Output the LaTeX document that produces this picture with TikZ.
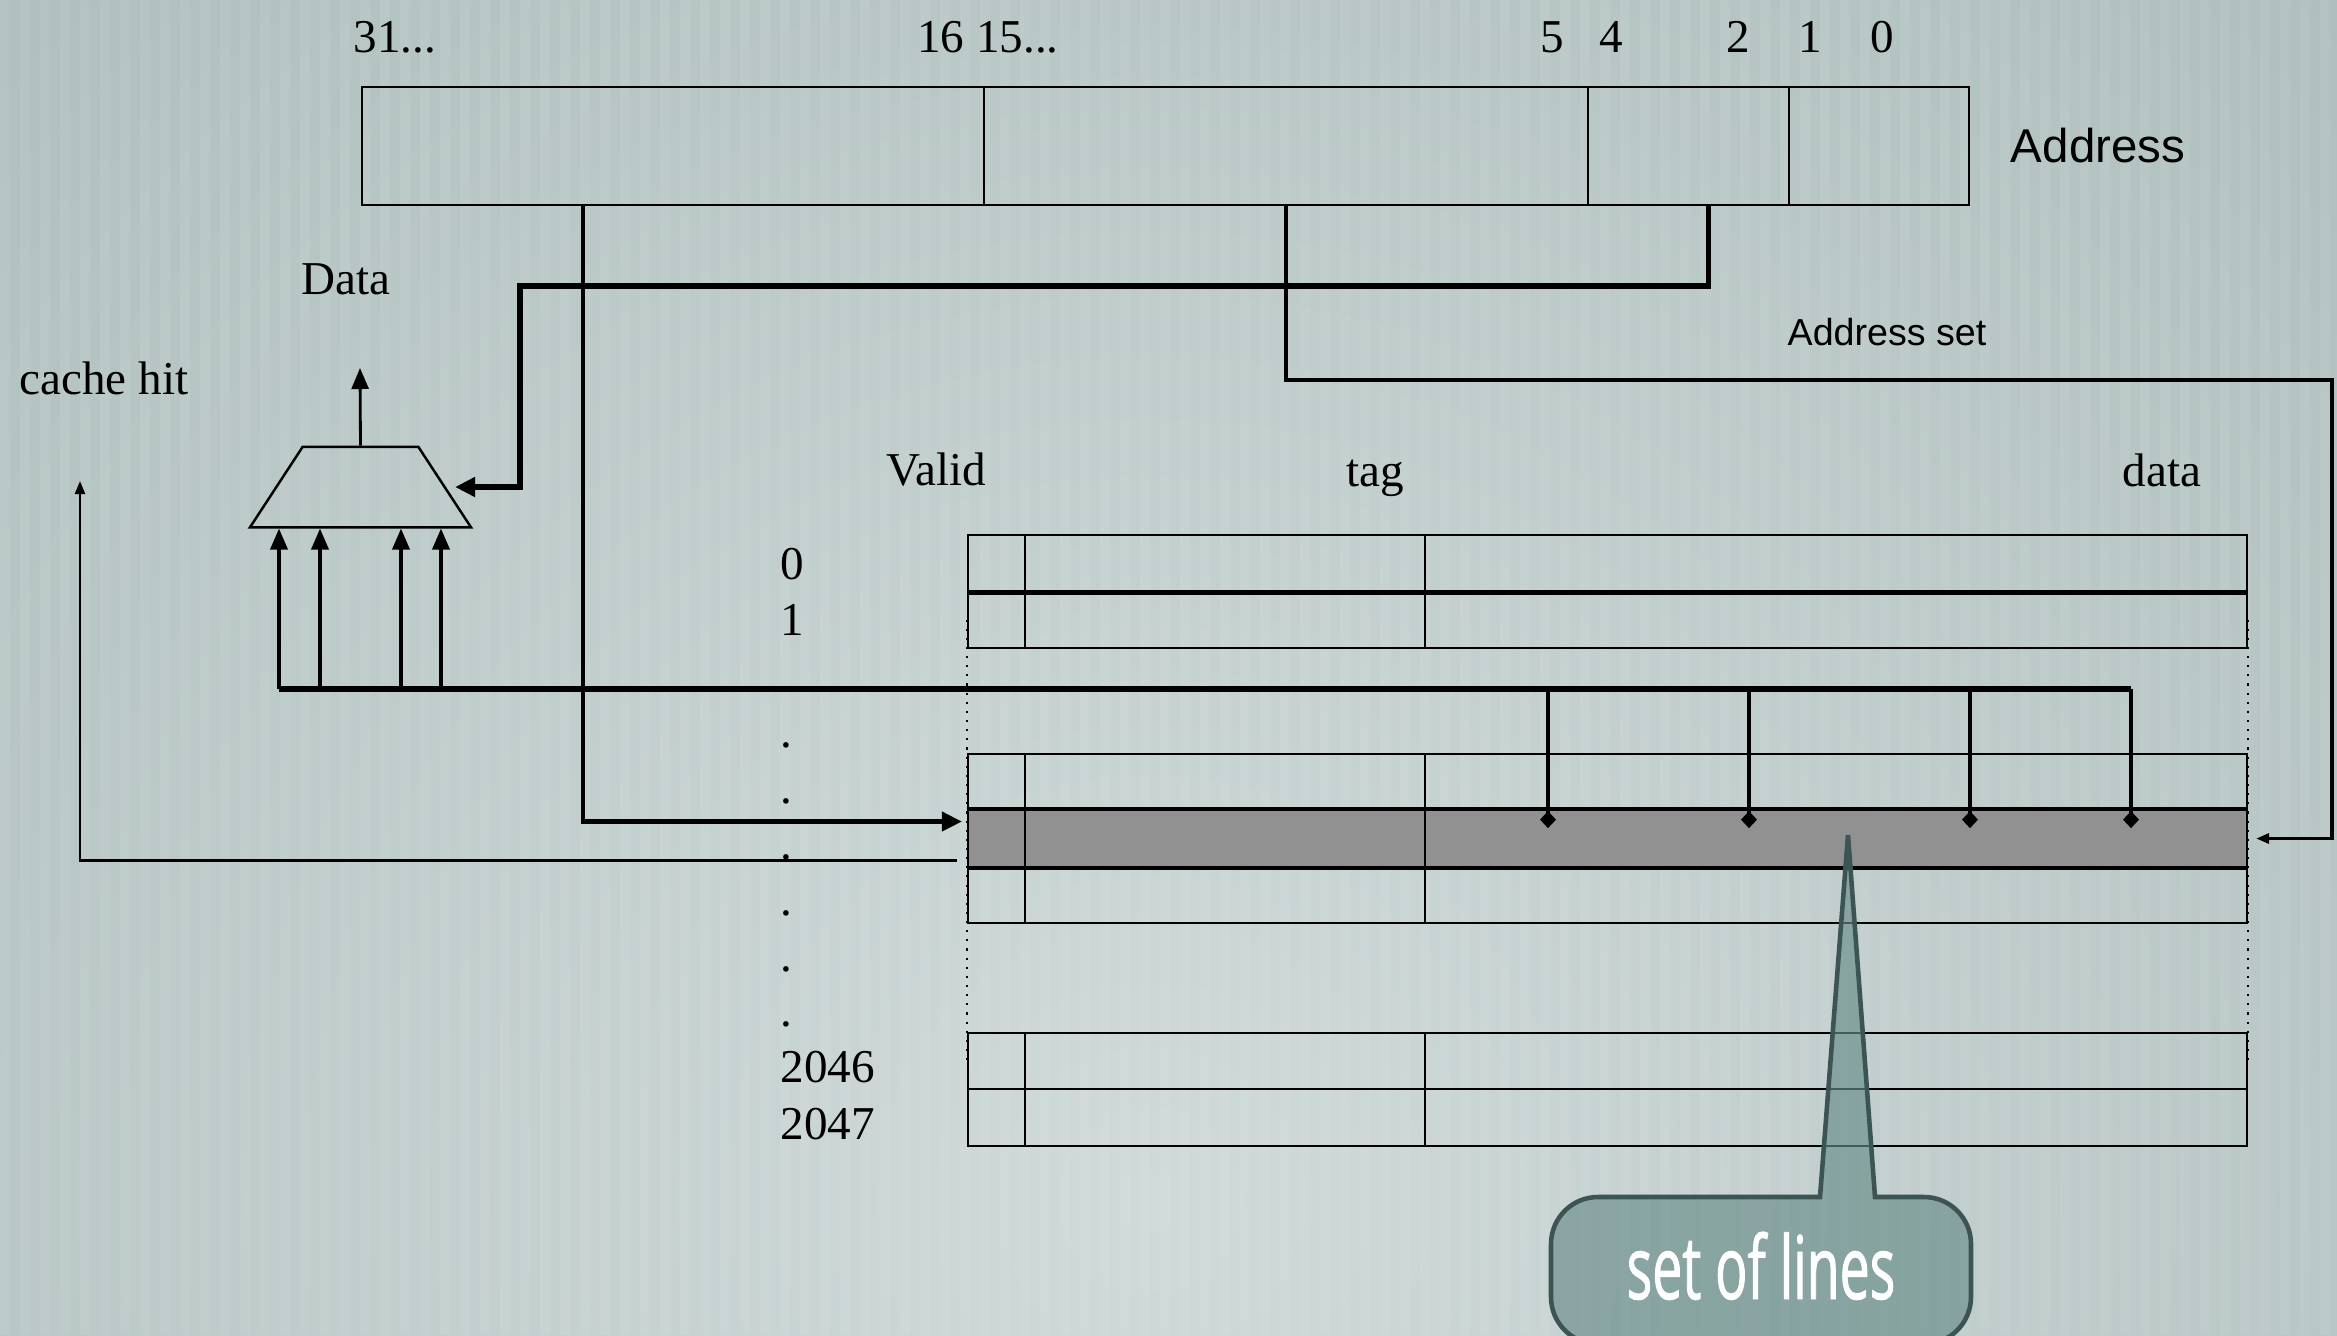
\documentclass[tikz,border=0pt]{standalone}
\usepackage{fontspec}
\setmainfont{Liberation Serif}
\setsansfont{Liberation Sans}
\newfontfamily\calloutfont[FakeStretch=0.61,FakeBold=1]{Open Sans}
\usetikzlibrary{arrows.meta,shapes.geometric,calc}

\definecolor{bgout}{RGB}{148,170,168}
\definecolor{bgin}{RGB}{208,218,217}
\definecolor{rowgray}{RGB}{145,145,145}
\definecolor{calloutfill}{RGB}{104,140,137}
\definecolor{calloutline}{RGB}{60,84,84}

\begin{document}
\begin{tikzpicture}
\tikzset{%
	field/.style = {draw, rectangle, minimum height=1.18cm, inner sep=0, line width=.7pt},
	cell/.style = {draw, rectangle, minimum height=.565cm, inner sep=0, line width=.65pt},
	valid/.style = {cell, minimum width=.57cm},
	tagcell/.style = {cell, minimum width=4cm},
	datacell/.style = {cell, minimum width=8.22cm},
	hot/.style = {fill=rowgray},
	lbl/.style = {anchor=base, inner sep=0, font=\fontsize{13.4}{16}\selectfont},
	rowlbl/.style = {lbl, anchor=base west},
	sans/.style = {lbl, font=\sffamily\fontsize{13.5}{16}\selectfont},
	mux/.style = {draw, trapezium, trapezium angle=65.5, trapezium stretches=true, minimum width=2.21cm, minimum height=.805cm, inner sep=1pt, line width=.7pt},
	con/.style = {-{Triangle[length=2.1mm,width=1.7mm]}, line width=1pt},
	fat/.style = {-{Triangle[length=2mm,width=1.9mm]}, line width=1.5pt},
	hair/.style = {-{Triangle[length=1.3mm,width=1mm]}, line width=.7pt},
	bus/.style = {line width=1.6pt},
	drop/.style = {-{Diamond[length=1.7mm,width=1.6mm]}, line width=1pt},
	callout/.style = {draw=calloutline, line width=1.3pt, fill=calloutfill, fill opacity=.65}
}

\useasboundingbox (0,0) rectangle (23.37,-13.35);

% Background
\begin{scope}
\clip (0,0) rectangle (23.37,-13.35);
\shade[inner color=bgin, outer color=bgout] (11.5,-12) circle (30);
\foreach \x in {0,0.2,...,23.4}
	\fill[white, opacity=.07] (\x,0) rectangle ++(.1,-13.35);
\end{scope}

% Address register
\draw node at (6.73,-1.46) [field, minimum width=6.22cm] (tagf) {};
\draw node at (12.86,-1.46) [field, minimum width=6.04cm] (idxf) {};
\draw node at (16.885,-1.46) [field, minimum width=2.01cm] (offf) {};
\draw node at (18.79,-1.46) [field, minimum width=1.80cm] (bytef) {};

\draw node at (3.95,-.52) [lbl] (b31) {31...};
\draw node at (9.88,-.52) [lbl] (b16) {16 15...};
\draw node at (15.52,-.52) [lbl] (b5) {5};
\draw node at (16.11,-.52) [lbl] (b4) {4};
\draw node at (17.38,-.52) [lbl] (b2) {2};
\draw node at (18.10,-.52) [lbl] (b1) {1};
\draw node at (18.82,-.52) [lbl] (b0) {0};
\draw node at (20.98,-1.625) [sans] (addr) {Address};
\draw node at (18.87,-3.45) [sans, font=\sffamily\fontsize{10.7}{13}\selectfont] (aset) {Address set};

\draw node at (3.46,-2.94) [lbl] (dlbl) {Data};
\draw node at (1.04,-3.94) [lbl] (hitlbl) {cache hit};

% Cache lines
\draw node at (9.36,-4.85) [lbl] (vlbl) {Valid};
\draw node at (13.75,-4.86) [lbl] (tlbl) {tag};
\draw node at (21.62,-4.86) [lbl] (dalbl) {data};

\draw node at (9.965,-5.63) [valid] (v0) {};
\draw node at (12.25,-5.63) [tagcell] (t0) {};
\draw node at (18.36,-5.63) [datacell] (d0) {};
\draw node at (9.965,-6.195) [valid] (v1) {};
\draw node at (12.25,-6.195) [tagcell] (t1) {};
\draw node at (18.36,-6.195) [datacell] (d1) {};

\draw node at (9.965,-7.82) [valid] (vp) {};
\draw node at (12.25,-7.82) [tagcell] (tp) {};
\draw node at (18.36,-7.82) [datacell] (dp) {};
\draw node at (9.965,-8.385) [valid, hot] (vs) {};
\draw node at (12.25,-8.385) [tagcell, hot] (ts) {};
\draw node at (18.36,-8.385) [datacell, hot] (ds) {};
\draw node at (9.965,-8.95) [valid] (vn) {};
\draw node at (12.25,-8.95) [tagcell] (tn) {};
\draw node at (18.36,-8.95) [datacell] (dn) {};

\draw node at (9.965,-10.61) [valid] (v2046) {};
\draw node at (12.25,-10.61) [tagcell] (t2046) {};
\draw node at (18.36,-10.61) [datacell] (d2046) {};
\draw node at (9.965,-11.175) [valid] (v2047) {};
\draw node at (12.25,-11.175) [tagcell] (t2047) {};
\draw node at (18.36,-11.175) [datacell] (d2047) {};

\draw[line width=1.3pt] (v0.south west) -- (d0.south east);
\draw[line width=1.3pt] (vs.north west) -- (ds.north east);
\draw[line width=1.3pt] (vs.south west) -- (ds.south east);
\draw[dotted, line width=.6pt] (v1.west) -- (v2046.west);
\draw[dotted, line width=.6pt] (d1.east) -- (d2046.east);

\draw node at (7.80,-5.79) [rowlbl] (n0) {0};
\draw node at (7.80,-6.35) [rowlbl] (n1) {1};
\draw node at (7.86,-7.475) [lbl] (dot1) {.};
\draw node at (7.86,-8.035) [lbl] (dot2) {.};
\draw node at (7.86,-8.595) [lbl] (dot3) {.};
\draw node at (7.86,-9.155) [lbl] (dot4) {.};
\draw node at (7.86,-9.715) [lbl] (dot5) {.};
\draw node at (7.86,-10.265) [lbl] (dot6) {.};
\draw node at (7.80,-10.825) [rowlbl] (n2046) {2046};
\draw node at (7.80,-11.39) [rowlbl] (n2047) {2047};

% Word select
\draw node at (3.605,-4.87) [mux] (mux) {};
\coordinate (dout) at (3.60,-3.68);
\draw[con, line width=.8pt] (mux.north) -- (dout);

\coordinate (m1) at (2.79,-6.89);
\coordinate (m2) at (3.20,-6.89);
\coordinate (m3) at (4.01,-6.89);
\coordinate (m4) at (4.41,-6.89);
\coordinate (w1) at (15.48,-6.89);
\coordinate (w2) at (17.49,-6.89);
\coordinate (w3) at (19.70,-6.89);
\coordinate (w4) at (21.31,-6.89);

\draw[bus] (m1) -- (w4);
\draw[con] (m1) -- (m1 |- mux.south);
\draw[con] (m2) -- (m2 |- mux.south);
\draw[con] (m3) -- (m3 |- mux.south);
\draw[con] (m4) -- (m4 |- mux.south);
\draw[drop] (w1) -- ($(w1 |- ds.north)+(0,-.19)$);
\draw[drop] (w2) -- ($(w2 |- ds.north)+(0,-.19)$);
\draw[drop] (w3) -- ($(w3 |- ds.north)+(0,-.19)$);
\draw[drop] (w4) -- ($(w4 |- ds.north)+(0,-.19)$);

\coordinate (selbend) at (5.20,-2.86);
\draw[fat, shorten >=.9mm] ([xshift=2mm]offf.south) |- (selbend) |- (mux.east);

\draw[fat, line width=1.2pt, shorten >=.5mm] ([xshift=-9mm]tagf.south) |- ([yshift=1.7mm]vs.west);

\coordinate (idxbend) at (23.32,-3.80);
\draw[hair, line width=.9pt, shorten >=.8mm] (idxf.south) |- (idxbend) |- (ds.east);

\coordinate (hit) at (.80,-4.81);
\draw[hair] ([xshift=-1mm,yshift=-2.2mm]vs.west) -| (hit);

% Callout
\begin{scope}
\clip (0,0) rectangle (23.37,-13.35);
\draw[callout] (18.75,-11.97) -- (19.24,-11.97) arc[start angle=90, end angle=0, radius=.47]
	-- (19.71,-12.97) arc[start angle=0, end angle=-90, radius=.47]
	-- (15.98,-13.44) arc[start angle=270, end angle=180, radius=.47]
	-- (15.51,-12.44) arc[start angle=180, end angle=90, radius=.47]
	-- (18.20,-11.97) -- (18.48,-8.35) -- cycle;
\end{scope}
\draw node at (17.61,-12.99) [anchor=base, inner sep=0, text=white, font=\calloutfont\fontsize{25}{30}\selectfont] (lines) {set of lines};

\end{tikzpicture}
\end{document}
